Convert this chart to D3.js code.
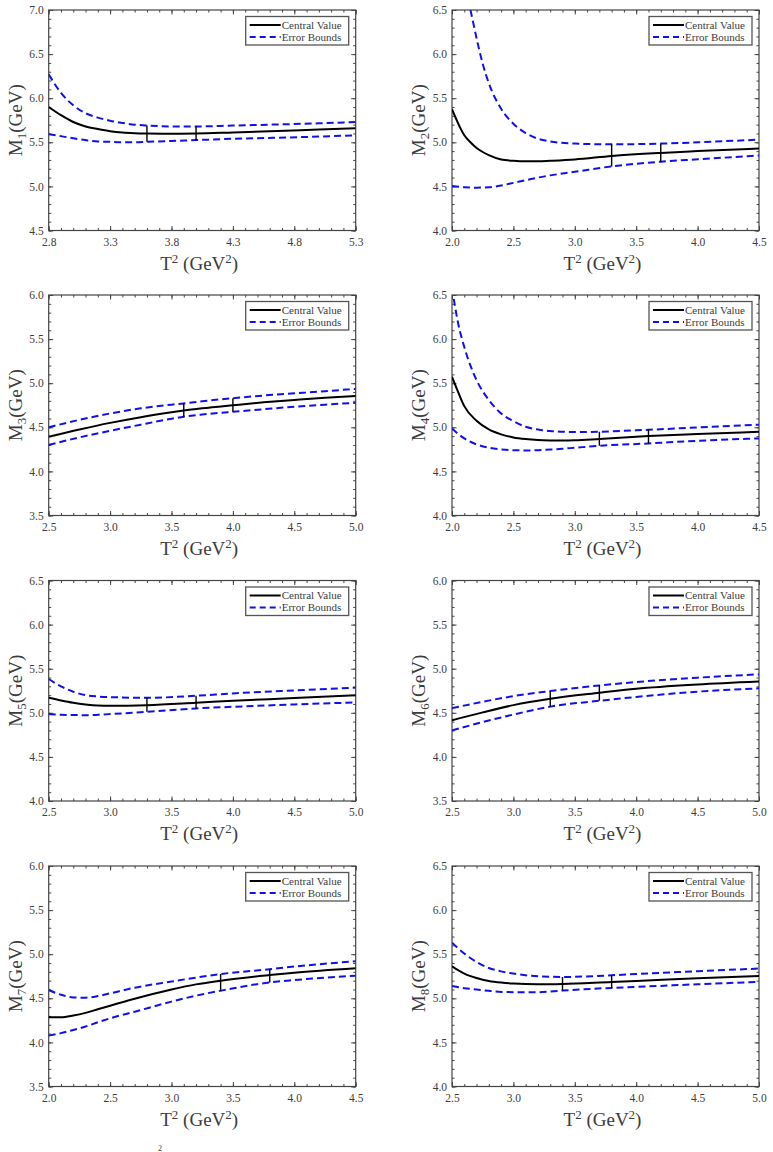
<!DOCTYPE html>
<html>
<head>
<meta charset="utf-8">
<script src="https://cdn.jsdelivr.net/npm/d3@7/dist/d3.min.js"></script>
<style>
  html, body { margin: 0; padding: 0; background: #fff; }
  svg { display: block; }
  text { font-family: "Liberation Serif", "Times New Roman", serif; fill: #3c3c3c; }
</style>
</head>
<body>
<svg id="chart" width="773" height="1152"></svg>
<script>
// ---------------- DATA ----------------
// Panel 1 : M1
const p1T       = [2.8, 2.9, 3.0, 3.1, 3.2, 3.3, 3.4, 3.5, 3.6, 3.8, 4.0, 4.3, 4.6, 5.0, 5.3];
const p1Central = [5.90, 5.807, 5.73, 5.68, 5.65, 5.625, 5.61, 5.603, 5.60, 5.598, 5.60, 5.612, 5.625, 5.645, 5.66];
const p1Upper   = [6.27, 6.06, 5.92, 5.83, 5.78, 5.745, 5.72, 5.70, 5.69, 5.68, 5.68, 5.69, 5.70, 5.715, 5.73];
const p1Lower   = [5.59, 5.57, 5.545, 5.525, 5.51, 5.505, 5.50, 5.50, 5.505, 5.515, 5.525, 5.54, 5.55, 5.565, 5.58];
const p1Bars    = [[3.6, 5.505, 5.69], [4.0, 5.525, 5.68]];
const p1XTicks  = [2.8, 3.3, 3.8, 4.3, 4.8, 5.3];
const p1YTicks  = [4.5, 5.0, 5.5, 6.0, 6.5, 7.0];

// Panel 2 : M2
const p2T       = [2.0, 2.1, 2.15, 2.2, 2.25, 2.3, 2.4, 2.5, 2.6, 2.7, 2.8, 3.0, 3.3, 3.7, 4.0, 4.5];
const p2Central = [5.375, 5.08, 5.0, 4.935, 4.89, 4.855, 4.805, 4.79, 4.784, 4.784, 4.79, 4.805, 4.845, 4.88, 4.90, 4.93];
const p2Upper   = [7.6, 6.75, 6.5, 6.18, 5.89, 5.67, 5.38, 5.21, 5.105, 5.04, 5.01, 4.985, 4.977, 4.985, 5.0, 5.03];
const p2Lower   = [4.504, 4.49, 4.487, 4.485, 4.487, 4.49, 4.51, 4.54, 4.57, 4.60, 4.625, 4.665, 4.727, 4.78, 4.807, 4.85];
const p2Bars    = [[3.3, 4.727, 4.977], [3.7, 4.78, 4.985]];
const p2XTicks  = [2.0, 2.5, 3.0, 3.5, 4.0, 4.5];
const p2YTicks  = [4.0, 4.5, 5.0, 5.5, 6.0, 6.5];

// Panel 3 : M3
const p3T       = [2.5, 2.75, 3.0, 3.25, 3.5, 3.6, 3.75, 4.0, 4.25, 4.5, 4.75, 5.0];
const p3Central = [4.393, 4.475, 4.55, 4.615, 4.67, 4.69, 4.715, 4.75, 4.783, 4.81, 4.835, 4.855];
const p3Upper   = [4.50, 4.585, 4.657, 4.715, 4.757, 4.77, 4.795, 4.83, 4.86, 4.885, 4.91, 4.935];
const p3Lower   = [4.30, 4.385, 4.46, 4.53, 4.597, 4.62, 4.645, 4.676, 4.705, 4.733, 4.757, 4.778];
const p3Bars    = [[3.6, 4.62, 4.77], [4.0, 4.676, 4.83]];
const p3XTicks  = [2.5, 3.0, 3.5, 4.0, 4.5, 5.0];
const p3YTicks  = [3.5, 4.0, 4.5, 5.0, 5.5, 6.0];

// Panel 4 : M4
const p4T       = [2.0, 2.05, 2.1, 2.2, 2.3, 2.4, 2.5, 2.6, 2.7, 2.8, 2.9, 3.0, 3.2, 3.6, 4.0, 4.5];
const p4Central = [5.573, 5.40, 5.24, 5.074, 4.976, 4.92, 4.885, 4.866, 4.855, 4.851, 4.85, 4.853, 4.868, 4.90, 4.923, 4.95];
const p4Upper   = [6.58, 6.18, 5.91, 5.535, 5.31, 5.157, 5.07, 5.006, 4.975, 4.957, 4.95, 4.946, 4.95, 4.972, 4.998, 5.03];
const p4Lower   = [4.987, 4.925, 4.874, 4.806, 4.768, 4.75, 4.74, 4.738, 4.74, 4.748, 4.757, 4.768, 4.79, 4.817, 4.847, 4.874];
const p4Bars    = [[3.2, 4.79, 4.95], [3.6, 4.817, 4.972]];
const p4XTicks  = [2.0, 2.5, 3.0, 3.5, 4.0, 4.5];
const p4YTicks  = [4.0, 4.5, 5.0, 5.5, 6.0, 6.5];

// Panel 5 : M5
const p5T       = [2.5, 2.6, 2.7, 2.8, 2.9, 3.0, 3.3, 3.7, 4.0, 4.5, 5.0];
const p5Central = [5.17, 5.14, 5.114, 5.095, 5.083, 5.08, 5.087, 5.114, 5.136, 5.167, 5.20];
const p5Upper   = [5.383, 5.30, 5.239, 5.20, 5.185, 5.178, 5.17, 5.193, 5.22, 5.254, 5.284];
const p5Lower   = [4.985, 4.978, 4.975, 4.973, 4.977, 4.985, 5.011, 5.05, 5.068, 5.095, 5.117];
const p5Bars    = [[3.3, 5.011, 5.17], [3.7, 5.05, 5.193]];
const p5XTicks  = [2.5, 3.0, 3.5, 4.0, 4.5, 5.0];
const p5YTicks  = [4.0, 4.5, 5.0, 5.5, 6.0, 6.5];

// Panel 6 : M6
const p6T       = [2.5, 2.75, 3.0, 3.3, 3.7, 4.0, 4.5, 5.0];
const p6Central = [4.416, 4.505, 4.587, 4.659, 4.727, 4.773, 4.822, 4.856];
const p6Upper   = [4.552, 4.625, 4.689, 4.746, 4.81, 4.849, 4.898, 4.936];
const p6Lower   = [4.30, 4.395, 4.48, 4.57, 4.636, 4.68, 4.74, 4.777];
const p6Bars    = [[3.3, 4.57, 4.746], [3.7, 4.636, 4.81]];
const p6XTicks  = [2.5, 3.0, 3.5, 4.0, 4.5, 5.0];
const p6YTicks  = [3.5, 4.0, 4.5, 5.0, 5.5, 6.0];

// Panel 7 : M7
const p7T       = [2.0, 2.1, 2.2, 2.3, 2.4, 2.5, 2.7, 3.0, 3.2, 3.4, 3.8, 4.0, 4.5];
const p7Central = [4.284, 4.285, 4.305, 4.335, 4.375, 4.416, 4.495, 4.60, 4.658, 4.70, 4.763, 4.79, 4.84];
const p7Upper   = [4.594, 4.54, 4.51, 4.507, 4.525, 4.556, 4.62, 4.69, 4.735, 4.775, 4.83, 4.86, 4.92];
const p7Lower   = [4.077, 4.105, 4.141, 4.18, 4.228, 4.273, 4.348, 4.462, 4.53, 4.586, 4.68, 4.707, 4.756];
const p7Bars    = [[3.4, 4.586, 4.775], [3.8, 4.68, 4.83]];
const p7XTicks  = [2.0, 2.5, 3.0, 3.5, 4.0, 4.5];
const p7YTicks  = [3.5, 4.0, 4.5, 5.0, 5.5, 6.0];

// Panel 8 : M8
const p8T       = [2.5, 2.6, 2.7, 2.8, 2.9, 3.0, 3.2, 3.4, 3.8, 4.0, 4.5, 5.0];
const p8Central = [5.363, 5.28, 5.231, 5.197, 5.178, 5.167, 5.159, 5.163, 5.186, 5.197, 5.227, 5.254];
const p8Upper   = [5.63, 5.507, 5.412, 5.344, 5.305, 5.28, 5.25, 5.242, 5.261, 5.276, 5.307, 5.337];
const p8Lower   = [5.14, 5.115, 5.099, 5.085, 5.072, 5.07, 5.069, 5.088, 5.118, 5.129, 5.159, 5.186];
const p8Bars    = [[3.4, 5.088, 5.242], [3.8, 5.118, 5.261]];
const p8XTicks  = [2.5, 3.0, 3.5, 4.0, 4.5, 5.0];
const p8YTicks  = [4.0, 4.5, 5.0, 5.5, 6.0, 6.5];

const legendLabels = ["Central Value", "Error Bounds"];
const xTitle = "T";
const yTitleBase = "M";
const yUnit = "(GeV)";

// ---------------- BUILD ----------------
const panels = [
  {T:p1T, c:p1Central, u:p1Upper, l:p1Lower, bars:p1Bars, xt:p1XTicks, yt:p1YTicks, sub:"1"},
  {T:p2T, c:p2Central, u:p2Upper, l:p2Lower, bars:p2Bars, xt:p2XTicks, yt:p2YTicks, sub:"2"},
  {T:p3T, c:p3Central, u:p3Upper, l:p3Lower, bars:p3Bars, xt:p3XTicks, yt:p3YTicks, sub:"3"},
  {T:p4T, c:p4Central, u:p4Upper, l:p4Lower, bars:p4Bars, xt:p4XTicks, yt:p4YTicks, sub:"4"},
  {T:p5T, c:p5Central, u:p5Upper, l:p5Lower, bars:p5Bars, xt:p5XTicks, yt:p5YTicks, sub:"5"},
  {T:p6T, c:p6Central, u:p6Upper, l:p6Lower, bars:p6Bars, xt:p6XTicks, yt:p6YTicks, sub:"6"},
  {T:p7T, c:p7Central, u:p7Upper, l:p7Lower, bars:p7Bars, xt:p7XTicks, yt:p7YTicks, sub:"7"},
  {T:p8T, c:p8Central, u:p8Upper, l:p8Lower, bars:p8Bars, xt:p8XTicks, yt:p8YTicks, sub:"8"}
];

const colLeft = [48.7, 452];
const rowTop = [10, 295, 580.5, 866];
const W = 307, H = 220.5;
const frameColor = "#444";
const blue = "#1010ee";

const svg = d3.select("#chart");

function minorTicks(lo, hi) {
  const out = [];
  const n = Math.round((hi - lo) / 0.1);
  for (let i = 0; i <= n; i++) out.push(+(lo + i * 0.1).toFixed(3));
  return out;
}

panels.forEach((p, i) => {
  const left = colLeft[i % 2], top = rowTop[Math.floor(i / 2)];
  const xDom = [p.xt[0], p.xt[p.xt.length - 1]];
  const yDom = [p.yt[0], p.yt[p.yt.length - 1]];
  const x = d3.scaleLinear().domain(xDom).range([0, W]);
  const y = d3.scaleLinear().domain(yDom).range([H, 0]);
  const g = svg.append("g").attr("transform", `translate(${left},${top})`);

  const clipId = "clip" + i;
  g.append("clipPath").attr("id", clipId)
    .append("rect").attr("x", 0).attr("y", 0).attr("width", W).attr("height", H);

  const xMinor = minorTicks(xDom[0], xDom[1]);
  const yMinor = minorTicks(yDom[0], yDom[1]);
  const fmt = d3.format(".1f");

  function styleAxis(sel) {
    sel.select(".domain").remove();
    sel.selectAll("line").attr("stroke", frameColor).attr("stroke-width", 1);
    sel.selectAll("text").attr("font-size", "11.5px").attr("fill", "#3c3c3c")
      .attr("font-family", '"Liberation Serif", serif');
  }

  // minor ticks
  g.append("g").attr("transform", `translate(0,${H})`)
    .call(d3.axisBottom(x).tickValues(xMinor).tickSize(-2.5).tickFormat("")).call(styleAxis);
  g.append("g")
    .call(d3.axisTop(x).tickValues(xMinor).tickSize(-2.5).tickFormat("")).call(styleAxis);
  g.append("g")
    .call(d3.axisLeft(y).tickValues(yMinor).tickSize(-2.5).tickFormat("")).call(styleAxis);
  g.append("g").attr("transform", `translate(${W},0)`)
    .call(d3.axisRight(y).tickValues(yMinor).tickSize(-2.5).tickFormat("")).call(styleAxis);

  // major ticks
  g.append("g").attr("transform", `translate(0,${H})`)
    .call(d3.axisBottom(x).tickValues(p.xt).tickSize(-4.5).tickPadding(7).tickFormat(fmt)).call(styleAxis);
  g.append("g")
    .call(d3.axisTop(x).tickValues(p.xt).tickSize(-4.5).tickFormat("")).call(styleAxis);
  g.append("g")
    .call(d3.axisLeft(y).tickValues(p.yt).tickSize(-4.5).tickPadding(5).tickFormat(fmt)).call(styleAxis);
  g.append("g").attr("transform", `translate(${W},0)`)
    .call(d3.axisRight(y).tickValues(p.yt).tickSize(-4.5).tickFormat("")).call(styleAxis);

  // frame
  g.append("rect").attr("x", 0).attr("y", 0).attr("width", W).attr("height", H)
    .attr("fill", "none").attr("stroke", frameColor).attr("stroke-width", 1.2);

  // lines
  const line = d3.line().x(d => x(d[0])).y(d => y(d[1])).curve(d3.curveMonotoneX);
  const plot = g.append("g").attr("clip-path", `url(#${clipId})`);
  const pts = arr => p.T.map((t, k) => [t, arr[k]]);

  plot.append("path").datum(pts(p.u)).attr("d", line)
    .attr("fill", "none").attr("stroke", blue).attr("stroke-width", 2).attr("stroke-dasharray", "7,4");
  plot.append("path").datum(pts(p.l)).attr("d", line)
    .attr("fill", "none").attr("stroke", blue).attr("stroke-width", 2).attr("stroke-dasharray", "7,4");
  plot.append("path").datum(pts(p.c)).attr("d", line)
    .attr("fill", "none").attr("stroke", "#000").attr("stroke-width", 2);

  // window bars
  plot.selectAll("line.bar").data(p.bars).enter().append("line").attr("class", "bar")
    .attr("x1", d => x(d[0])).attr("x2", d => x(d[0]))
    .attr("y1", d => y(d[1])).attr("y2", d => y(d[2]))
    .attr("stroke", "#000").attr("stroke-width", 1.4);

  // legend
  const lg = g.append("g").attr("transform", `translate(${W - 110},6.5)`);
  lg.append("rect").attr("x", 0).attr("y", 0).attr("width", 103).attr("height", 28.5)
    .attr("fill", "#fff").attr("stroke", "#555").attr("stroke-width", 1.3);
  lg.append("line").attr("x1", 4).attr("x2", 35).attr("y1", 8.5).attr("y2", 8.5)
    .attr("stroke", "#000").attr("stroke-width", 2);
  lg.append("line").attr("x1", 4).attr("x2", 35).attr("y1", 20.5).attr("y2", 20.5)
    .attr("stroke", blue).attr("stroke-width", 2).attr("stroke-dasharray", "6,4");
  lg.append("text").attr("x", 36).attr("y", 12.3).attr("font-size", "11px").text(legendLabels[0]);
  lg.append("text").attr("x", 36).attr("y", 24.3).attr("font-size", "11px").text(legendLabels[1]);

  // x title
  const xt = g.append("text").attr("x", W / 2 - 3).attr("y", H + 39)
    .attr("text-anchor", "middle").attr("font-size", "19px");
  xt.append("tspan").text(xTitle);
  xt.append("tspan").attr("dy", -7).attr("font-size", "13px").text("2");
  xt.append("tspan").attr("dy", 7).text(" (GeV");
  xt.append("tspan").attr("dy", -7).attr("font-size", "13px").text("2");
  xt.append("tspan").attr("dy", 7).text(")");

  // y title
  const yt = g.append("text")
    .attr("transform", `translate(-27,${H / 2}) rotate(-90)`)
    .attr("text-anchor", "middle").attr("font-size", "19px");
  yt.append("tspan").text(yTitleBase);
  yt.append("tspan").attr("dy", 4).attr("font-size", "13px").text(p.sub);
  yt.append("tspan").attr("dy", -4).text(yUnit);
});

// caption fragment at the bottom (superscript "2")
svg.append("text").attr("x", 158).attr("y", 1151).attr("font-size", "8px").text("2");
</script>
</body>
</html>
